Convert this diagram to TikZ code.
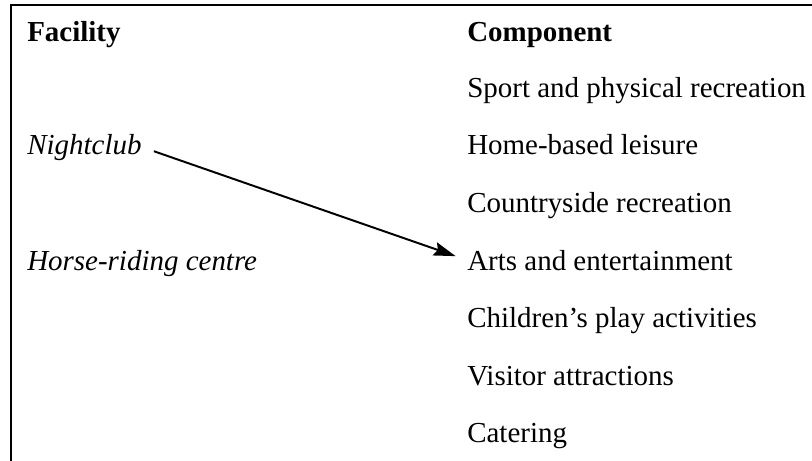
\documentclass[tikz,border=0pt]{standalone}
\usepackage{fontspec}
\setmainfont{Liberation Serif}
\usetikzlibrary{arrows.meta}
\begin{document}
\begin{tikzpicture}[x=0.025cm,y=-0.025cm,
	every node/.style={anchor=base west,inner sep=0pt,font=\fontsize{20.6}{24}\selectfont},
	kopf/.style={font=\fontsize{20.6}{24}\selectfont\bfseries},
	anlage/.style={font=\fontsize{20.6}{24}\selectfont\itshape}]
\useasboundingbox (0,0) rectangle (812,461);

\draw[line width=2pt] (812,5) -- (11,5) -- (11,461);

\node[kopf] (facility) at (27,41) {Facility};
\node[kopf] (component) at (467,41) {Component};

\node[anlage] (nightclub) at (27,154) {Nightclub};
\node[anlage] (horse) at (27,270) {Horse-riding centre};

\node (sport) at (467,97) {Sport and physical recreation};
\node (home) at (467,154) {Home-based leisure};
\node (countryside) at (467,212) {Countryside recreation};
\node (arts) at (467,270) {Arts and entertainment};
\node (children) at (467,327) {Children’s play activities};
\node (visitor) at (467,385) {Visitor attractions};
\node (catering) at (467,442) {Catering};

\draw[line width=1.4pt,-{Stealth[length=0.55cm,width=0.34cm,inset=0.08cm]},
	shorten <=0.32cm,shorten >=0.3cm]
(nightclub.east) -- (arts.west);
\end{tikzpicture}
\end{document}
